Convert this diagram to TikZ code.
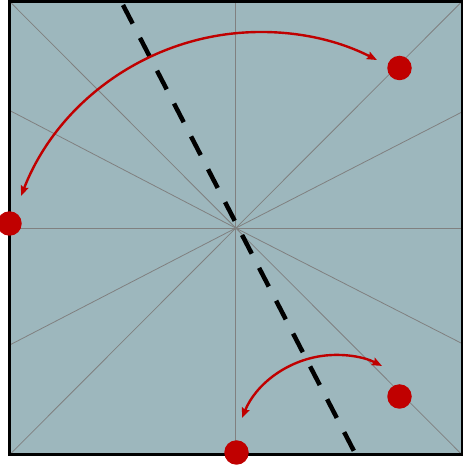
\documentclass[tikz,border=0pt]{standalone}
\usetikzlibrary{arrows.meta}
\definecolor{paper}{RGB}{157,183,189}
\definecolor{creasegray}{RGB}{128,128,128}
\definecolor{dotred}{RGB}{192,0,0}
\tikzset{
  crease/.style={draw=creasegray, line width=0.8pt},
  foldline/.style={draw=black, line width=4.5pt, dash pattern=on 21pt off 16pt},
  border/.style={draw=black, line width=2.6pt},
  reddot/.style={circle, fill=dotred, inner sep=0pt, minimum size=24.5pt},
  redarrow/.style={draw=dotred, line width=2.4pt, {Stealth[length=10pt,width=8pt,inset=1.5pt]}-{Stealth[length=10pt,width=8pt,inset=1.5pt]}}
}
\begin{document}
\begin{tikzpicture}[x=1pt,y=1pt]
\useasboundingbox (0,0) rectangle (463,467);
% square corners and reference points
\coordinate (TL) at (9.7,465.5);
\coordinate (TR) at (462,465.5);
\coordinate (BL) at (9.7,12.3);
\coordinate (BR) at (462,12.3);
\coordinate (O) at (235.8,238.9);
\coordinate (MT) at (235.8,465.5);
\coordinate (MB) at (235.8,12.3);
\coordinate (ML) at (9.7,238.9);
\coordinate (MR) at (462,238.9);
\coordinate (L1) at (9.7,356.5);
\coordinate (L2) at (9.7,122);
\coordinate (R1) at (462,355);
\coordinate (R2) at (462,123.5);
\fill[paper] (TL) rectangle (BR);
% crease lines through the centre
\foreach \p in {TL,TR,BL,BR,MT,MB,ML,MR,L1,L2,R1,R2}
  \draw[crease] (O) -- (\p);
% fold line
\coordinate (F1) at (123,462);
\coordinate (F2) at (356,12);
\draw[foldline] (F1) -- (F2);
% border
\draw[border] (TL) rectangle (BR);
% rotation arrows
\coordinate (A1) at (21.1,271.1);
\draw[redarrow] (A1) arc[start angle=158.8, end angle=63.0, radius=256.7];
\coordinate (A2) at (242,49);
\draw[redarrow] (A2) arc[start angle=157.7, end angle=63.1, radius=101.6];
% red dots
\node[reddot] (P1) at (399.5,399) {};
\node[reddot] (P2) at (9.5,243.5) {};
\node[reddot] (P3) at (399.5,70.5) {};
\node[reddot] (P4) at (236.5,14.5) {};
\end{tikzpicture}
\end{document}
